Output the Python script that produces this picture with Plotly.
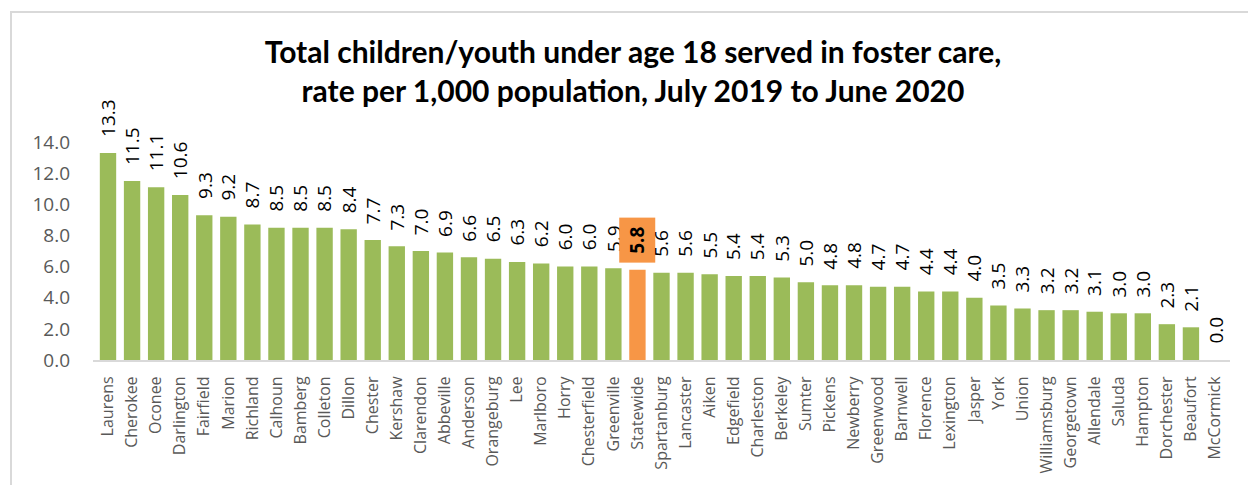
import plotly.graph_objects as go

# South Carolina counties plus the statewide rate, sorted high to low
counties = [
    "Laurens", "Cherokee", "Oconee", "Darlington", "Fairfield", "Marion",
    "Richland", "Calhoun", "Bamberg", "Colleton", "Dillon", "Chester",
    "Kershaw", "Clarendon", "Abbeville", "Anderson", "Orangeburg", "Lee",
    "Marlboro", "Horry", "Chesterfield", "Greenville", "Statewide",
    "Spartanburg", "Lancaster", "Aiken", "Edgefield", "Charleston",
    "Berkeley", "Sumter", "Pickens", "Newberry", "Greenwood", "Barnwell",
    "Florence", "Lexington", "Jasper", "York", "Union", "Williamsburg",
    "Georgetown", "Allendale", "Saluda", "Hampton", "Dorchester",
    "Beaufort", "McCormick",
]
rates = [
    13.3, 11.5, 11.1, 10.6, 9.3, 9.2, 8.7, 8.5, 8.5, 8.5, 8.4, 7.7, 7.3,
    7.0, 6.9, 6.6, 6.5, 6.3, 6.2, 6.0, 6.0, 5.9, 5.8, 5.6, 5.6, 5.5, 5.4,
    5.4, 5.3, 5.0, 4.8, 4.8, 4.7, 4.7, 4.4, 4.4, 4.0, 3.5, 3.3, 3.2, 3.2,
    3.1, 3.0, 3.0, 2.3, 2.1, 0.0,
]
highlight = "Statewide"
y_ticks = [0, 2, 4, 6, 8, 10, 12, 14]

GREEN = "#9BBB59"
ORANGE = "#F79646"
GRID = "#D9D9D9"
TEXT_GRAY = "#595959"

W, H = 1248, 485
ML, MR, MT, MB = 93, 18, 142, 125
PW, PH = W - ML - MR, H - MT - MB

colors = [ORANGE if c == highlight else GREEN for c in counties]

fig = go.Figure(
    go.Bar(
        x=counties,
        y=rates,
        marker=dict(color=colors, line=dict(width=0)),
        hoverinfo="x+y",
    )
)

# Value labels, rotated, sitting above each bar
annotations = []
for c, v in zip(counties, rates):
    label = dict(
        x=c,
        y=v,
        xref="x",
        yref="y",
        text=f"{v:.1f}",
        textangle=-90,
        showarrow=False,
        xanchor="center",
        yanchor="bottom",
        yshift=14,
        bgcolor="rgba(0,0,0,0)",
        borderpad=1,
        font=dict(family="Open Sans", size=19, color="#000000"),
    )
    if c == highlight:
        # statewide value gets a bold label on an orange tag
        label.update(
            text=f"<b>{v:.1f}</b>",
            bgcolor=ORANGE,
            width=42,
            height=33,
            yshift=7,
        )
    annotations.append(label)


def px_x(p):
    return (p - ML) / PW


def px_y(p):
    return (H - MB - p) / PH


# Light chart-area frame (left and top edges visible)
shapes = [
    dict(
        type="rect",
        xref="paper",
        yref="paper",
        x0=px_x(11),
        x1=px_x(1270),
        y0=px_y(520),
        y1=px_y(12),
        line=dict(color=GRID, width=2),
        fillcolor="rgba(0,0,0,0)",
        layer="below",
    )
]

fig.update_layout(
    width=W,
    height=H,
    margin=dict(l=ML, r=MR, t=MT, b=MB, autoexpand=False),
    paper_bgcolor="white",
    plot_bgcolor="white",
    showlegend=False,
    bargap=0.32,
    title=dict(
        text="Total children/youth under age 18 served in foster care,<br>"
        "rate per 1,000 population, July 2019 to June 2020",
        x=633 / W,
        xref="container",
        xanchor="center",
        y=1 - 63 / H,
        yref="container",
        yanchor="top",
        font=dict(family="Lato", size=30, color="#000000", weight="bold"),
    ),
    annotations=annotations,
    shapes=shapes,
    xaxis=dict(
        type="category",
        tickangle=-90,
        tickfont=dict(family="Open Sans", size=16, color=TEXT_GRAY),
        showgrid=False,
        showline=True,
        linecolor=GRID,
        linewidth=2,
        ticks="",
        ticklabelstandoff=8,
        fixedrange=True,
    ),
    yaxis=dict(
        range=[0, 14],
        tickvals=y_ticks,
        tickformat=".1f",
        tickfont=dict(family="Open Sans", size=19, color=TEXT_GRAY),
        showgrid=False,
        showline=False,
        zeroline=False,
        ticks="",
        ticklabelstandoff=22,
        fixedrange=True,
    ),
)

fig.write_html("out.html")
